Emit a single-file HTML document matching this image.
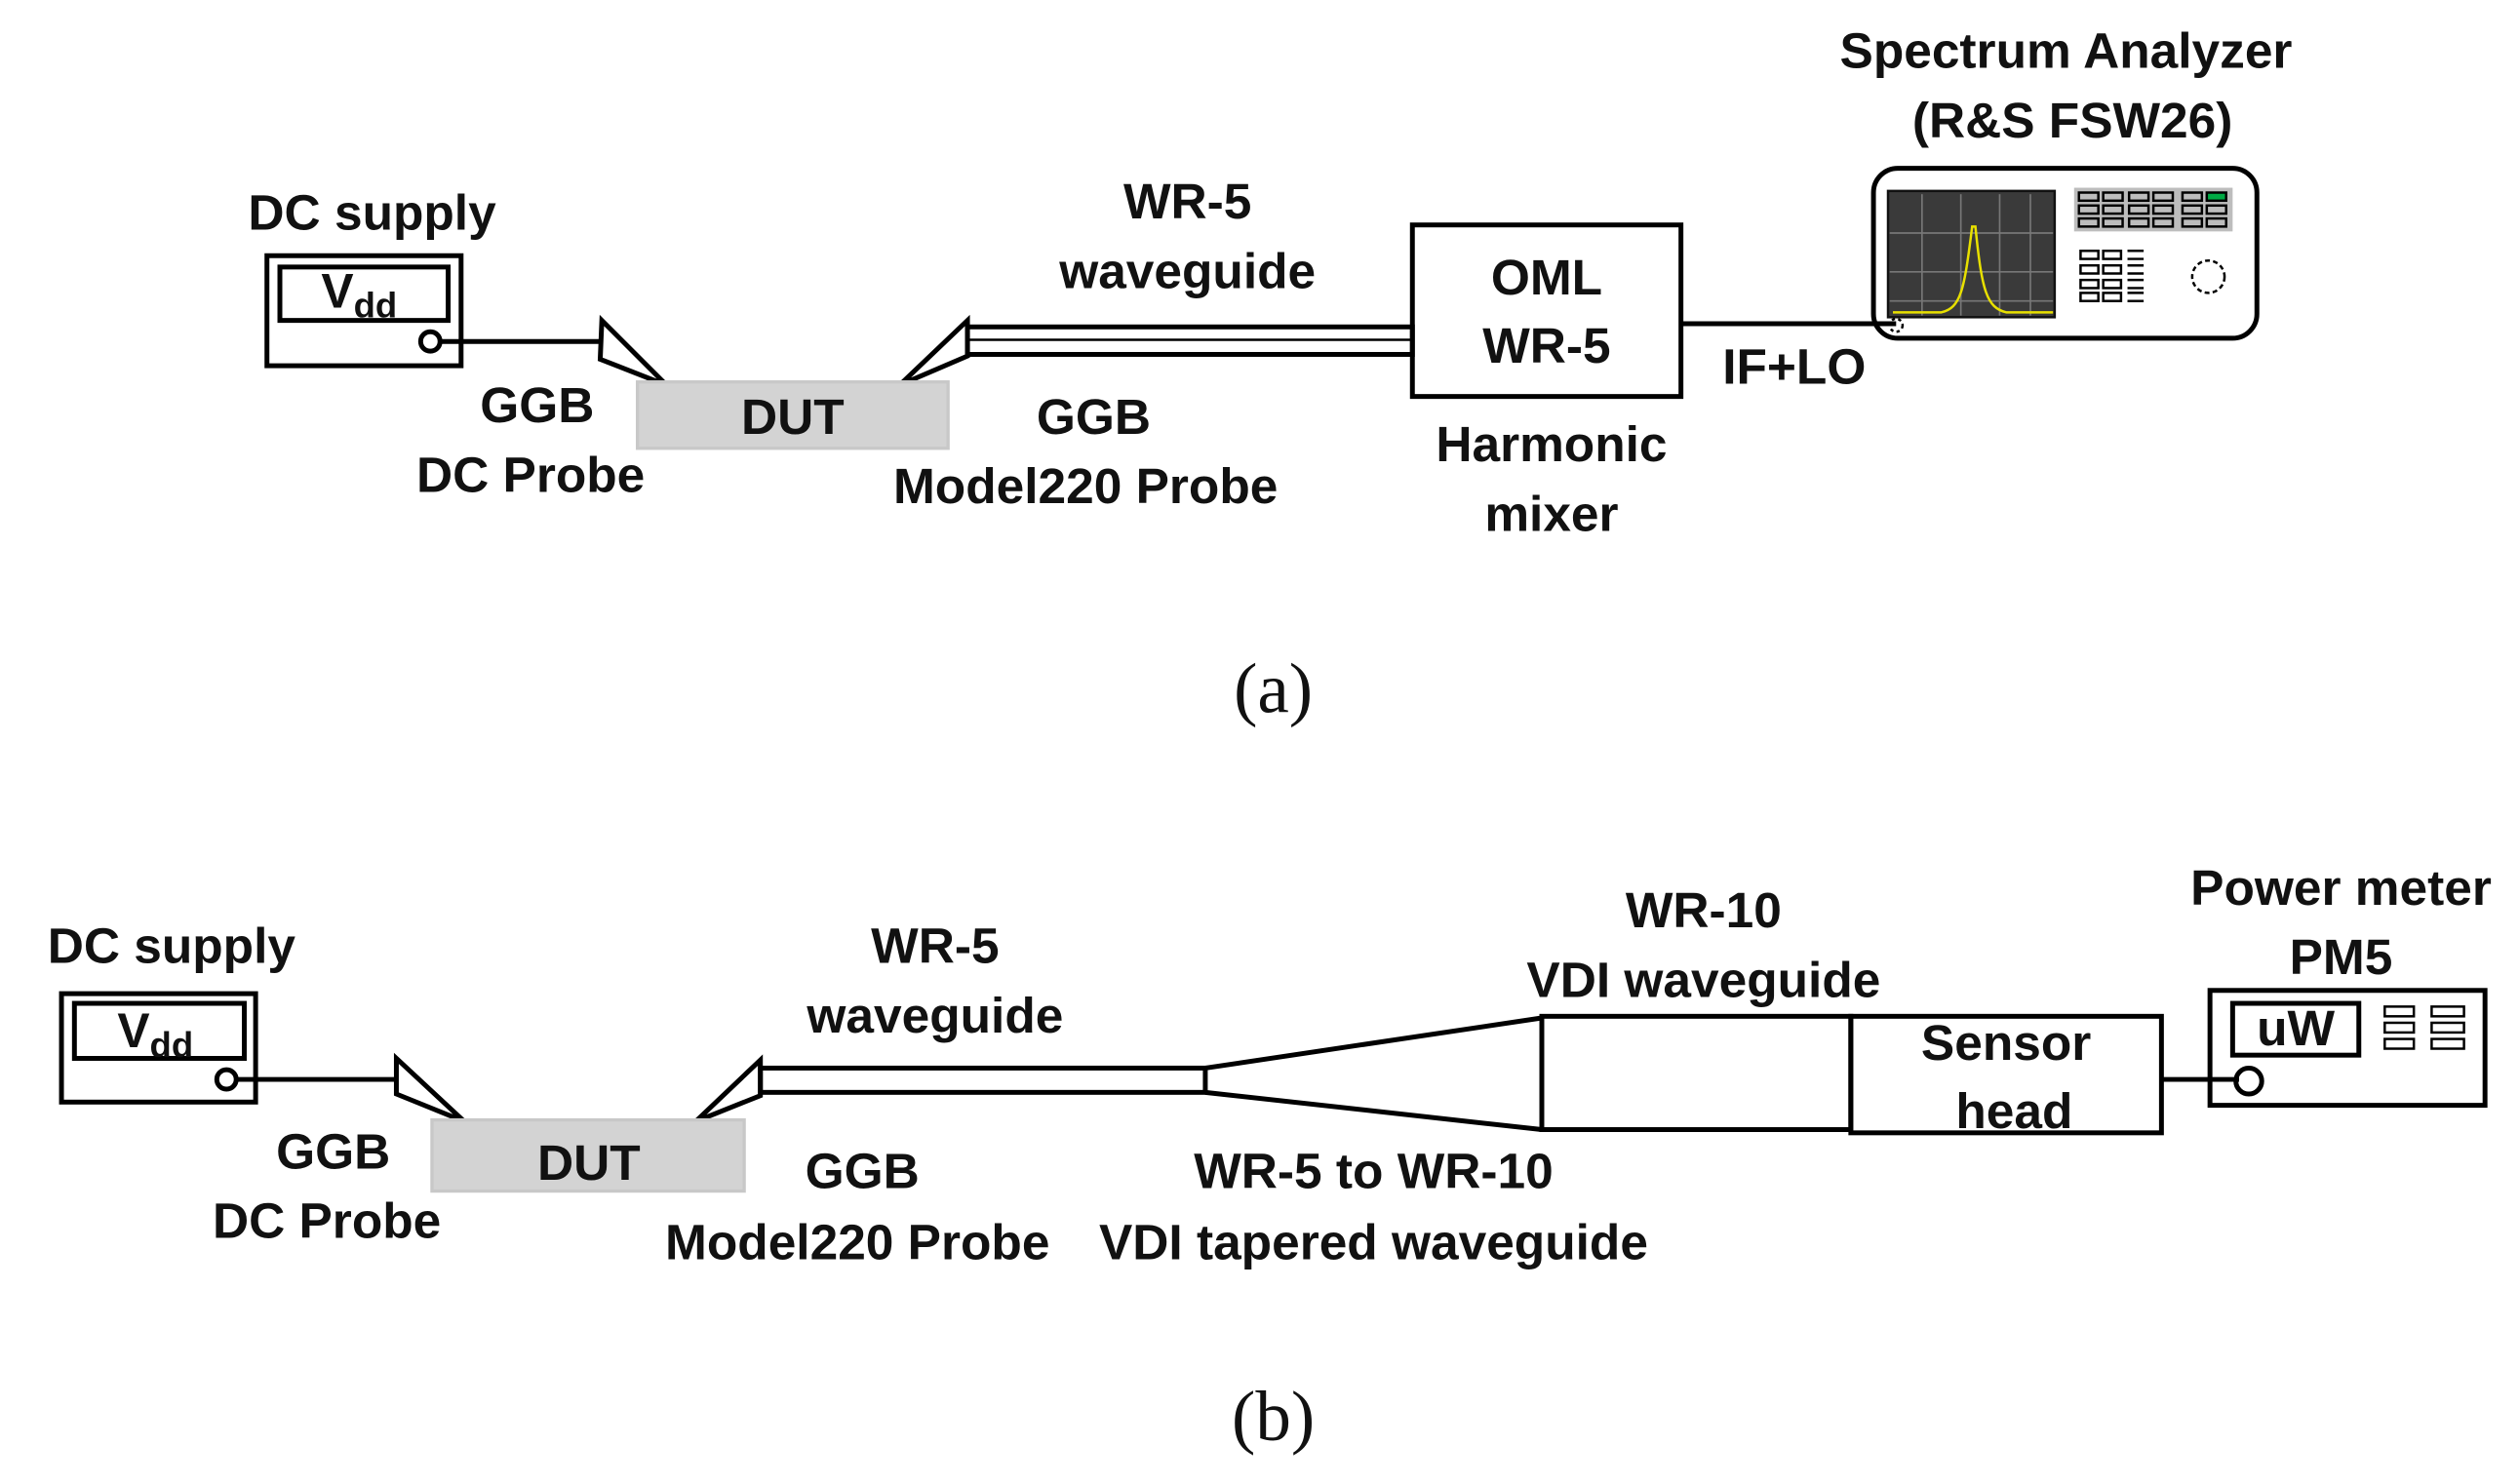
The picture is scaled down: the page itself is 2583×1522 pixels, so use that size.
<!DOCTYPE html>
<html><head><style>html,body{margin:0;padding:0;background:#fff}svg{display:block}
text{font-family:"Liberation Sans",sans-serif;font-size:31px;font-weight:bold;fill:#111;text-anchor:middle}
.s{font-family:"Liberation Serif",serif;font-size:44px;font-weight:normal}
</style></head><body>
<svg width="2583" height="1522" viewBox="0 0 1557 917" preserveAspectRatio="none" xmlns="http://www.w3.org/2000/svg">
<g fill="none" stroke="#000" stroke-width="3">
<rect x="165" y="158" width="120" height="68"/>
<rect x="173" y="165" width="104" height="33"/>
<circle cx="266" cy="211" r="6"/>
<line x1="272" y1="211" x2="372" y2="211"/>
<polygon points="372,198 412,238 371,222" fill="#fff"/>
<polygon points="598,198 556,238 598,220" fill="#fff"/>
<rect x="598" y="202" width="275" height="17"/>
<line x1="598" y1="210" x2="873" y2="210" stroke-width="1.5"/>
<rect x="873" y="139" width="166" height="106"/>
<line x1="1039" y1="200" x2="1172" y2="200"/>
<rect x="1158" y="104" width="237" height="105" rx="15"/>
<rect x="38" y="614" width="120" height="67"/>
<rect x="46" y="620" width="105" height="34"/>
<circle cx="140" cy="667" r="6"/>
<line x1="146" y1="667" x2="245" y2="667"/>
<polygon points="245,654 287,693 245,676" fill="#fff"/>
<polygon points="470,655 430,693 470,677" fill="#fff"/>
<rect x="470" y="660" width="275" height="15"/>
<line x1="745" y1="660" x2="953" y2="629"/>
<line x1="745" y1="675" x2="953" y2="698"/>
<rect x="953" y="628" width="191" height="70"/>
<rect x="1144" y="628" width="192" height="72"/>
<line x1="1336" y1="667" x2="1384" y2="667"/>
<rect x="1366" y="612" width="170" height="71"/>
<rect x="1380" y="620" width="78" height="32"/>
<circle cx="1390" cy="668" r="8"/>
</g>
<rect x="394" y="236" width="192" height="41" fill="#d3d3d3" stroke="#c8c8c8" stroke-width="2"/>
<rect x="267" y="692" width="193" height="44" fill="#d3d3d3" stroke="#c8c8c8" stroke-width="2"/>
<rect x="1167" y="118" width="103" height="78" fill="#3a3a3a" stroke="#111" stroke-width="1.5"/>
<g stroke="#777" stroke-width="1">
<line x1="1188" y1="120" x2="1188" y2="195"/><line x1="1212" y1="120" x2="1212" y2="195"/><line x1="1236" y1="120" x2="1236" y2="195"/><line x1="1255" y1="120" x2="1255" y2="195"/>
<line x1="1168" y1="144" x2="1269" y2="144"/><line x1="1168" y1="168" x2="1269" y2="168"/><line x1="1168" y1="186" x2="1269" y2="186"/>
</g>
<path d="M1170,193 L1200,193 C1212,190 1214,180 1219,140 L1221,140 C1225,180 1228,190 1240,193 L1269,193" fill="none" stroke="#e8e000" stroke-width="1.5"/>
<rect x="1282" y="116" width="98" height="27" fill="#bdbdbd"/>
<g stroke="#000" stroke-width="1.5" fill="none">
<rect x="1285" y="119" width="12" height="5"/><rect x="1300" y="119" width="12" height="5"/><rect x="1316" y="119" width="12" height="5"/><rect x="1331" y="119" width="12" height="5"/><rect x="1349" y="119" width="12" height="5"/><rect x="1364" y="119" width="12" height="5" fill="#0a4"/>
<rect x="1285" y="127" width="12" height="5"/><rect x="1300" y="127" width="12" height="5"/><rect x="1316" y="127" width="12" height="5"/><rect x="1331" y="127" width="12" height="5"/><rect x="1349" y="127" width="12" height="5"/><rect x="1364" y="127" width="12" height="5"/>
<rect x="1285" y="135" width="12" height="5"/><rect x="1300" y="135" width="12" height="5"/><rect x="1316" y="135" width="12" height="5"/><rect x="1331" y="135" width="12" height="5"/><rect x="1349" y="135" width="12" height="5"/><rect x="1364" y="135" width="12" height="5"/>
<rect x="1286" y="155" width="11" height="5"/><rect x="1300" y="155" width="11" height="5"/><line x1="1315" y1="155" x2="1325" y2="155"/><line x1="1315" y1="160" x2="1325" y2="160"/>
<rect x="1286" y="164" width="11" height="5"/><rect x="1300" y="164" width="11" height="5"/><line x1="1315" y1="164" x2="1325" y2="164"/><line x1="1315" y1="169" x2="1325" y2="169"/>
<rect x="1286" y="173" width="11" height="5"/><rect x="1300" y="173" width="11" height="5"/><line x1="1315" y1="173" x2="1325" y2="173"/><line x1="1315" y1="178" x2="1325" y2="178"/>
<rect x="1286" y="181" width="11" height="5"/><rect x="1300" y="181" width="11" height="5"/><line x1="1315" y1="181" x2="1325" y2="181"/><line x1="1315" y1="186" x2="1325" y2="186"/>
<circle cx="1365" cy="171" r="10" stroke-dasharray="3,2"/>
<circle cx="1172" cy="201" r="4" stroke-dasharray="2,2"/>
<rect x="1474" y="622" width="18" height="6"/><rect x="1474" y="632" width="18" height="6"/><rect x="1474" y="642" width="18" height="6"/>
<rect x="1503" y="622" width="20" height="6"/><rect x="1503" y="632" width="20" height="6"/><rect x="1503" y="642" width="20" height="6"/>
</g>
<text x="230" y="142">DC supply</text>
<text x="222" y="190" style="font-size:30px">V<tspan style="font-size:22px" dy="6">dd</tspan></text>
<text x="332" y="261">GGB</text>
<text x="328" y="304">DC Probe</text>
<text x="490" y="268">DUT</text>
<text x="734" y="135">WR-5</text>
<text x="734" y="178">waveguide</text>
<text x="676" y="268">GGB</text>
<text x="671" y="311">Model220 Probe</text>
<text x="956" y="182">OML</text>
<text x="956" y="224">WR-5</text>
<text x="959" y="285">Harmonic</text>
<text x="959" y="328">mixer</text>
<text x="1109" y="237">IF+LO</text>
<text x="1277" y="42">Spectrum Analyzer</text>
<text x="1281" y="85">(R&amp;S FSW26)</text>
<text class="s" x="787" y="440">(a)</text>
<text x="106" y="595">DC  supply</text>
<text x="96" y="647" style="font-size:30px">V<tspan style="font-size:22px" dy="6">dd</tspan></text>
<text x="206" y="722">GGB</text>
<text x="202" y="765">DC Probe</text>
<text x="364" y="729">DUT</text>
<text x="578" y="595">WR-5</text>
<text x="578" y="638">waveguide</text>
<text x="533" y="734">GGB</text>
<text x="530" y="778">Model220 Probe</text>
<text x="849" y="734">WR-5 to WR-10</text>
<text x="849" y="778">VDI tapered waveguide</text>
<text x="1053" y="573">WR-10</text>
<text x="1053" y="616">VDI waveguide</text>
<text x="1240" y="655">Sensor</text>
<text x="1245" y="697">head</text>
<text x="1447" y="559">Power meter</text>
<text x="1447" y="602">PM5</text>
<text x="1419" y="646">uW</text>
<text class="s" x="787" y="890">(b)</text>
</svg>
</body></html>
